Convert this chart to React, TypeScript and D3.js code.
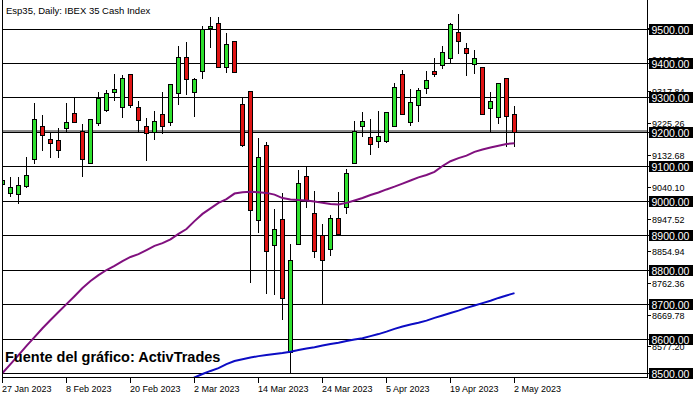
import React from "react";
import * as d3 from "d3";

const dates: string[] = [
  "27 Jan 2023", "30 Jan 2023", "31 Jan 2023", "1 Feb 2023", "2 Feb 2023", "3 Feb 2023", "6 Feb 2023", "7 Feb 2023",
  "8 Feb 2023", "9 Feb 2023", "10 Feb 2023", "13 Feb 2023", "14 Feb 2023", "15 Feb 2023", "16 Feb 2023", "17 Feb 2023",
  "20 Feb 2023", "21 Feb 2023", "22 Feb 2023", "23 Feb 2023", "24 Feb 2023", "27 Feb 2023", "28 Feb 2023", "1 Mar 2023",
  "2 Mar 2023", "3 Mar 2023", "6 Mar 2023", "7 Mar 2023", "8 Mar 2023", "9 Mar 2023", "10 Mar 2023", "13 Mar 2023",
  "14 Mar 2023", "15 Mar 2023", "16 Mar 2023", "17 Mar 2023", "20 Mar 2023", "21 Mar 2023", "22 Mar 2023", "23 Mar 2023",
  "24 Mar 2023", "27 Mar 2023", "28 Mar 2023", "29 Mar 2023", "30 Mar 2023", "31 Mar 2023", "3 Apr 2023", "4 Apr 2023",
  "5 Apr 2023", "6 Apr 2023", "11 Apr 2023", "12 Apr 2023", "13 Apr 2023", "14 Apr 2023", "17 Apr 2023", "18 Apr 2023",
  "19 Apr 2023", "20 Apr 2023", "21 Apr 2023", "24 Apr 2023", "25 Apr 2023", "26 Apr 2023", "27 Apr 2023", "28 Apr 2023",
  "2 May 2023",
];

const opens: number[] = [
  9049, 9023, 9020, 9043, 9120, 9216, 9179, 9176, 9211, 9256, 9202, 9109, 9225, 9263, 9315, 9272,
  9367, 9272, 9216, 9200, 9252, 9228, 9312, 9417, 9317, 9378, 9502, 9515, 9389, 9463, 9280, 9319,
  8943, 9162, 8871, 8946, 8562, 8875, 9071, 8964, 8900, 8861, 8950, 8981, 9109, 9218, 9184, 9173,
  9175, 9216, 9368, 9228, 9277, 9327, 9377, 9393, 9414, 9489, 9443, 9396, 9388, 9269, 9242, 9356,
  9251,
];
const highs: number[] = [
  9069, 9069, 9069, 9127, 9284, 9249, 9198, 9211, 9283, 9301, 9223, 9238, 9316, 9322, 9368, 9365,
  9368, 9289, 9240, 9260, 9315, 9339, 9450, 9461, 9357, 9508, 9533, 9535, 9486, 9464, 9301, 9319,
  9183, 9171, 8976, 9023, 8874, 9089, 9097, 9028, 8933, 8959, 9025, 9091, 9232, 9258, 9237, 9260,
  9258, 9341, 9380, 9324, 9328, 9377, 9415, 9450, 9515, 9542, 9457, 9437, 9388, 9316, 9341, 9356,
  9275,
];
const lows: number[] = [
  9043, 9011, 8991, 9037, 9108, 9145, 9123, 9125, 9201, 9227, 9068, 9107, 9218, 9259, 9291, 9240,
  9269, 9197, 9116, 9177, 9194, 9217, 9278, 9307, 9244, 9355, 9445, 9385, 9370, 9370, 9157, 8762,
  8906, 8729, 8726, 8654, 8496, 8872, 8980, 8833, 8697, 8841, 8904, 8962, 9108, 9184, 9134, 9154,
  9167, 9216, 9249, 9216, 9230, 9309, 9360, 9382, 9399, 9425, 9363, 9368, 9250, 9201, 9222, 9157,
  9157,
];
const closes: number[] = [
  9061, 9040, 9046, 9075, 9237, 9190, 9167, 9147, 9229, 9230, 9120, 9237, 9298, 9312, 9325, 9356,
  9277, 9234, 9197, 9231, 9216, 9338, 9417, 9353, 9353, 9499, 9508, 9388, 9455, 9373, 9162, 8972,
  9127, 8853, 8917, 8717, 8827, 9053, 9002, 8855, 8827, 8950, 8904, 9080, 9204, 9231, 9164, 9187,
  9257, 9330, 9252, 9286, 9321, 9351, 9367, 9431, 9513, 9463, 9428, 9414, 9253, 9290, 9341, 9247,
  9201,
];

// purple moving average
const maPurple: number[] = [
  8500, 8526, 8552, 8579, 8604, 8630, 8654, 8677, 8700, 8723, 8747, 8767, 8784, 8799, 8811, 8825,
  8837, 8845, 8857, 8869, 8877, 8888, 8904, 8918, 8941, 8962, 8978, 8994, 9005, 9021, 9025, 9026,
  9025, 9023, 9018, 9008, 9004, 9002, 9001, 8998, 8994, 8991, 8989, 8994, 9001, 9008, 9017, 9024,
  9033, 9041, 9050, 9059, 9068, 9075, 9084, 9101, 9115, 9124, 9131, 9142, 9149, 9155, 9160, 9165,
  9167,
];
// blue moving average (below the visible range before March)
const maBlue: (number | null)[] = [
  null, null, null, null, null, null, null, null, null, null, null, null, null, null, null, null,
  null, null, null, null, null, null, 8465, 8477, 8487, 8497, 8506, 8514, 8526, 8535, 8540, 8545,
  8549, 8552, 8555, 8558, 8562, 8567, 8571, 8575, 8580, 8584, 8588, 8593, 8597, 8601, 8607, 8613,
  8620, 8628, 8635, 8641, 8646, 8652, 8660, 8667, 8674, 8681, 8689, 8696, 8703, 8710, 8718, 8725,
  8732,
];

const xTickLabels: string[] = [
  "27 Jan 2023", "8 Feb 2023", "20 Feb 2023", "2 Mar 2023", "14 Mar 2023",
  "24 Mar 2023", "5 Apr 2023", "19 Apr 2023", "2 May 2023",
];
const gridLevels: number[] = [9500, 9400, 9300, 9200, 9100, 9000, 8900, 8800, 8700, 8600, 8500];
const axisTicks: number[] = [
  8577.2, 8669.78, 8762.36, 8854.94, 8947.52, 9040.1, 9132.68, 9225.26, 9317.84, 9410.42, 9503.0,
];
const hLineLevel = 9203;
const titleText = "Esp35, Daily:  IBEX 35 Cash Index";
const sourceText = "Fuente del gráfico: ActivTrades";

const FONT = "'Liberation Sans', Arial, sans-serif";
const GREEN = "#2ee02e";
const RED = "#e01414";

export default function App() {
  const W = 700;
  const H = 400;
  const plotL = 2;
  const plotR = 647;
  const plotB = 377;

  const x = d3.scaleLinear().domain([0, 64]).range([2, 514]);
  const y = d3.scaleLinear().domain([8500, 9500]).range([373, 28.6]);
  const cy = (v: number) => Math.round(y(v));

  const purpleLine = d3
    .line<number>()
    .x((_, i) => x(i) + 0.5)
    .y((d) => y(d))(maPurple);
  const blueLine = d3
    .line<number | null>()
    .defined((d) => d !== null)
    .x((_, i) => x(i) + 0.5)
    .y((d) => y(d as number))(maBlue);

  return (
    <svg
      width={W}
      height={H}
      style={{ position: "absolute", left: 0, top: 0, background: "#fff" }}
      fontFamily={FONT}
    >
      <defs>
        <clipPath id="plotClip">
          <rect x={plotL} y={0} width={plotR - plotL} height={plotB} />
        </clipPath>
      </defs>
      <rect x={0} y={0} width={W} height={H} fill="#fff" />

      {/* gridlines */}
      <g shapeRendering="crispEdges">
        {gridLevels.map((v) => (
          <line key={v} x1={plotL} x2={plotR} y1={cy(v) + 0.5} y2={cy(v) + 0.5} stroke="#000" strokeWidth={1} />
        ))}
        <line x1={plotL} x2={plotR} y1={cy(hLineLevel)} y2={cy(hLineLevel)} stroke="#8c8c8c" strokeWidth={2} />
      </g>

      <g clipPath="url(#plotClip)">
        {/* candles */}
        {dates.map((d, i) => {
          const cx = Math.round(x(i));
          const o = opens[i];
          const c = closes[i];
          const top = cy(Math.max(o, c));
          const bot = cy(Math.min(o, c));
          return (
            <g key={d} shapeRendering="crispEdges">
              <line x1={cx + 0.5} x2={cx + 0.5} y1={cy(highs[i])} y2={cy(lows[i])} stroke="#000" strokeWidth={1} />
              <rect
                x={cx - 1.5}
                y={top + 0.5}
                width={4}
                height={Math.max(bot - top, 1)}
                fill={c >= o ? GREEN : RED}
                stroke="#000"
                strokeWidth={1}
              />
            </g>
          );
        })}
        <path d={purpleLine || ""} fill="none" stroke="#80107e" strokeWidth={2} />
        <path d={blueLine || ""} fill="none" stroke="#0c0cc4" strokeWidth={2} />
      </g>

      {/* frame */}
      <g shapeRendering="crispEdges">
        <line x1={plotL + 0.5} x2={plotL + 0.5} y1={0} y2={plotB + 1} stroke="#000" />
        <line x1={plotR + 0.5} x2={plotR + 0.5} y1={0} y2={plotB + 1} stroke="#000" />
        <line x1={plotL} x2={plotR + 1} y1={plotB + 0.5} y2={plotB + 0.5} stroke="#000" />
      </g>

      {/* x axis */}
      {xTickLabels.map((lab) => {
        const i = dates.indexOf(lab);
        const tx = Math.round(x(i));
        return (
          <g key={lab}>
            <line x1={tx + 0.5} x2={tx + 0.5} y1={plotB} y2={plotB + 6} stroke="#000" shapeRendering="crispEdges" />
            <text x={tx} y={392} fontSize={9} fill="#000">
              {lab}
            </text>
          </g>
        );
      })}

      {/* y axis plain ticks */}
      {axisTicks.map((v) => (
        <g key={v}>
          <line x1={plotR} x2={plotR + 4} y1={cy(v) + 0.5} y2={cy(v) + 0.5} stroke="#000" shapeRendering="crispEdges" />
          <text x={652} y={cy(v) + 3.5} fontSize={9} fill="#000">
            {v.toFixed(2)}
          </text>
        </g>
      ))}
      {/* y axis boxed levels */}
      {gridLevels.map((v) => (
        <g key={"b" + v}>
          <line x1={plotR} x2={plotR + 3} y1={cy(v) + 0.5} y2={cy(v) + 0.5} stroke="#000" shapeRendering="crispEdges" />
          <rect x={649} y={cy(v) - 5} width={44} height={11} fill="#000" />
          <text x={651.5} y={cy(v) + 4.5} fontSize={10.5} fill="#fff">
            {v.toFixed(2)}
          </text>
        </g>
      ))}

      {/* title and source */}
      <text x={6} y={14} fontSize={9.5} fill="#000">
        {titleText}
      </text>
      <text x={5} y={362} fontSize={14.5} fontWeight="bold" fill="#000">
        {sourceText}
      </text>
    </svg>
  );
}
